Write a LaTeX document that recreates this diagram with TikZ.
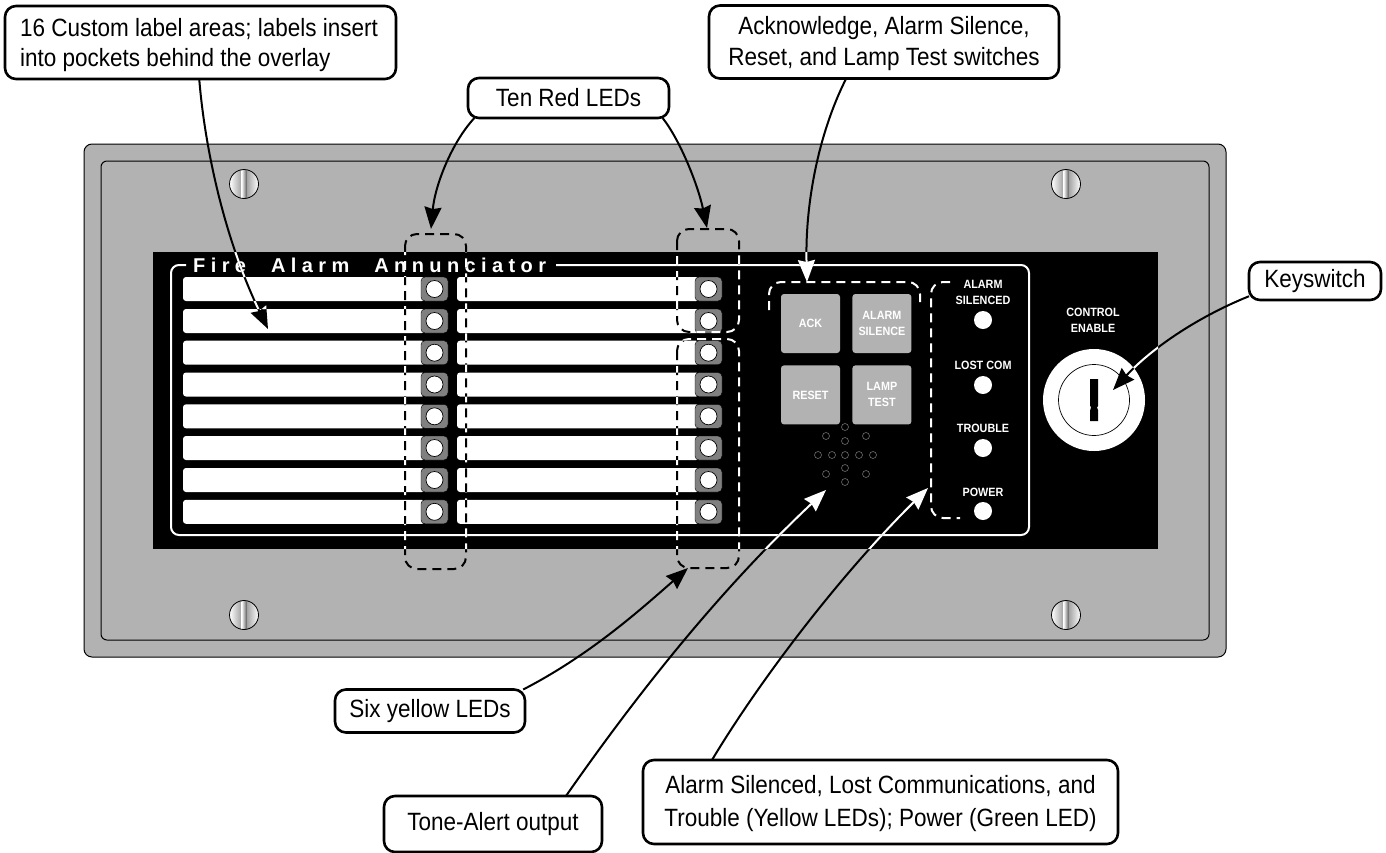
\documentclass[tikz,border=0pt]{standalone}
\usepackage{fontspec}
\setmainfont{Liberation Sans}
\newfontfamily\calloutfont[FakeStretch=0.9]{Liberation Sans}
\newfontfamily\panelfont[FakeStretch=0.9]{Liberation Sans}
\newfontfamily\titlefont[LetterSpace=27]{Liberation Sans}
\usetikzlibrary{arrows.meta,calc,positioning}
\definecolor{plategray}{HTML}{B2B2B2}
\definecolor{padgray}{HTML}{808080}
\definecolor{holegray}{HTML}{6E6E6E}
\newcommand{\lowerline}{\rule{0pt}{22pt}}
\tikzstyle{plate}=[
  draw=black,
  fill=plategray,
  line width=1pt,
]
\tikzstyle{callout}=[
  draw=black,
  fill=white,
  line width=2.6pt,
  rounded corners=11pt,
  inner sep=0pt,
  outer sep=0pt,
  align=center,
  font={\fontsize{25}{31}\calloutfont},
]
\tikzstyle{strip}=[
  fill=white,
  rounded corners=3pt,
  minimum width=242pt,
  minimum height=24pt,
  inner sep=0pt,
  outer sep=0pt,
]
\tikzstyle{pad}=[
  fill=padgray,
  draw=black,
  line width=.4pt,
  rounded corners=4pt,
  minimum width=27pt,
  minimum height=24pt,
  inner sep=0pt,
  outer sep=0pt,
]
\tikzstyle{led}=[
  circle,
  fill=white,
  draw=black,
  line width=.7pt,
  minimum size=17pt,
  inner sep=0pt,
]
\tikzstyle{lamp}=[
  circle,
  fill=white,
  minimum size=18pt,
  inner sep=0pt,
]
\tikzstyle{switch}=[
  fill=plategray,
  rounded corners=3pt,
  minimum width=59pt,
  minimum height=59pt,
  inner sep=0pt,
  align=center,
  text=white,
  font={\fontsize{12}{16}\panelfont\bfseries},
]
\tikzstyle{legend}=[
  text=white,
  align=center,
  inner sep=0pt,
  font={\fontsize{12}{16}\panelfont\bfseries},
]
\tikzstyle{dashbox}=[
  line width=2pt,
  dash pattern=on 9pt off 6pt,
  rounded corners=12pt,
]
\tikzstyle{pointer}=[
  line width=2pt,
  -{Stealth[length=22pt,width=17pt,inset=2pt]},
]
\tikzset{
  x=1pt,
  y=-1pt,
}
% dashed groups and leader lines, drawn once in each colour
\newcommand{\markings}[1]{
  \draw [dashbox, #1] (405,234) rectangle (466,569);
  \draw [dashbox, #1] (677,229) rectangle (739,332);
  \draw [dashbox, #1] (677,339) rectangle (739,568);
  \draw [dashbox, #1] (769,310) -- (769,282) -- (920,282) -- (920,302);
  \draw [dashbox, #1] (950,282) -- (931,282) -- (931,518) -- (960,518);
  \draw [pointer, #1] (CUSTOM.-92) .. controls (205,150) and (225,240) .. (CUSTOMTIP);
  \draw [pointer, #1] (TEN.192) .. controls (452,142) and (435,185) .. (TENTIPA);
  \draw [pointer, #1] (TEN.348) .. controls (680,140) and (698,185) .. (TENTIPB);
  \draw [pointer, #1] (SWITCHES.224) .. controls (820,130) and (805,200) .. (SWITCHTIP);
  \draw [pointer, #1] (KEY.193.6) .. controls (1195,318) and (1150,350) .. (KEYTIP);
  \draw [pointer, #1] (SIX.13.9) .. controls (590,655) and (640,610) .. (SIXTIP);
  \draw [pointer, #1] (TONE.21.25) .. controls (640,690) and (720,590) .. (TONETIP);
  \draw [pointer, #1] (STATUS.166.85) .. controls (760,680) and (840,575) .. (STATUSTIP);
}
\begin{document}
\begin{tikzpicture}
  \useasboundingbox (0,0) rectangle (1386,852);
  \fill [white] (0,0) rectangle (1386,852);
  % housing
  \draw [plate, rounded corners=8pt] (84,144) rectangle (1226,657);
  \draw [plate, rounded corners=6pt] (101,161) rectangle (1209,640);
  \foreach \x/\y/\n in {244/184/A,1066/184/B,244/615/C,1066/615/D} {
    \shade [left color=white, right color=white, middle color=black!45] (\x,\y) circle (14.5);
    \shade [left color=white, right color=black!60] (\x-2.5,\y-14) rectangle (\x+2.5,\y+14);
    \node [circle, draw=black, line width=.8pt, minimum size=29pt, inner sep=0pt] (SCREW\n) at (\x,\y) {};
  }
  % panel
  \fill [black] (153,252) rectangle (1158,549);
  \draw [white, line width=2pt, rounded corners=8pt] (186,265) -- (171,265) -- (171,535) -- (1029,535) -- (1029,265) -- (556,265);
  \node [anchor=west, text=white, inner sep=0pt, font={\fontsize{20}{20}\titlefont\bfseries}] (TITLE) at (193,265) {Fire\hspace{25pt}Alarm\hspace{25pt}Annunciator};
  \foreach \y [count=\n] in {289,321,352.7,384.5,416.3,448,480,511.8} {
    \node [strip] (STRIPL\n) at (304,\y) {};
    \node [pad, right=-4pt of STRIPL\n] (PADL\n) {};
    \node [led] (LEDL\n) at (PADL\n) {};
    \node [strip] (STRIPR\n) at (578,\y) {};
    \node [pad, right=-4pt of STRIPR\n] (PADR\n) {};
    \node [led] (LEDR\n) at (PADR\n) {};
  }
  % switches
  \node [switch] (ACK) at (810.5,323.5) {ACK};
  \node [switch, right=12pt of ACK] (SILENCE) {ALARM\\SILENCE};
  \node [switch, below=12pt of ACK] (RESET) {RESET};
  \node [switch, right=12pt of RESET] (LAMP) {LAMP\\TEST};
  % tone-alert holes
  \foreach \x/\y [count=\n] in {845/427,845/441,845/455,845/468,845/482,818/455,832/455,859/455,873/455,826/436,866/436,826/474,866/474} {
    \node [circle, draw=holegray, line width=.6pt, minimum size=7pt, inner sep=0pt] (HOLE\n) at (\x,\y) {};
  }
  % status lamps
  \node [lamp] (LAMPA) at (983,320) {};
  \node [lamp] (LAMPB) at (983,385) {};
  \node [lamp] (LAMPC) at (983,448) {};
  \node [lamp] (LAMPD) at (983,511) {};
  \node [legend] (LEGENDA) at (983,292) {ALARM\\SILENCED};
  \node [legend] (LEGENDB) at (983,365) {LOST COM};
  \node [legend] (LEGENDC) at (983,428) {TROUBLE};
  \node [legend] (LEGENDD) at (983,492) {POWER};
  % keyswitch
  \node [legend] (LEGENDE) at (1093,320.5) {CONTROL\\ENABLE};
  \node [circle, fill=white, minimum size=102pt, inner sep=0pt] (BEZEL) at (1094,400) {};
  \node [circle, draw=black, line width=.7pt, minimum size=71pt, inner sep=0pt] (CYLINDER) at (1094,400) {};
  \fill [black] (1090,379) -- (1098,379) -- (1098,406) -- (1097,407.5) -- (1098,410) -- (1098,421) -- (1090,421) -- (1090,411) -- (1091,407) -- (1090,406) -- cycle;
  % callouts
  \node [callout, minimum width=391pt, minimum height=73pt] (CUSTOM) at (200.5,42.5) {};
  \node [anchor=west, align=left, inner sep=0pt, font={\fontsize{25}{30.5}\calloutfont}] (CUSTOMTEXT) at (20,43) {\lowerline 16 Custom label areas; labels insert\\into pockets behind the overlay};
  \node [callout, minimum width=201pt, minimum height=40pt] (TEN) at (568.5,98) {Ten Red LEDs};
  \node [callout, minimum width=350pt, minimum height=73pt] (SWITCHES) at (884,42) {\lowerline Acknowledge, Alarm Silence,\\Reset, and Lamp Test switches};
  \node [callout, minimum width=132pt, minimum height=38pt] (KEY) at (1315,281) {Keyswitch};
  \node [callout, minimum width=190pt, minimum height=43pt] (SIX) at (430,711) {Six yellow LEDs};
  \node [callout, minimum width=218pt, minimum height=56pt] (TONE) at (493,824) {Tone-Alert output};
  \node [callout, minimum width=475pt, minimum height=84pt] (STATUS) at (880.5,802) {\lowerline Alarm Silenced, Lost Communications, and\\[2pt]Trouble (Yellow LEDs); Power (Green LED)};
  \coordinate (CUSTOMTIP) at (268,329);
  \coordinate (TENTIPA) at (431,229);
  \coordinate (TENTIPB) at (707,228);
  \coordinate (SWITCHTIP) at (807,282);
  \coordinate (KEYTIP) at (1113,390);
  \coordinate (SIXTIP) at (688,568);
  \coordinate (TONETIP) at (826,490);
  \coordinate (STATUSTIP) at (928,488);
  % black on the light parts, white on the black parts
  \markings{black}
  \begin{scope}[even odd rule]
    \clip (153,252) rectangle (1158,549)
      (183,277) rectangle (421,301) (183,309) rectangle (421,333)
      (183,340.7) rectangle (421,364.7) (183,372.5) rectangle (421,396.5)
      (183,404.3) rectangle (421,428.3) (183,436) rectangle (421,460)
      (183,468) rectangle (421,492) (183,499.8) rectangle (421,523.8)
      (457,277) rectangle (695,301) (457,309) rectangle (695,333)
      (457,340.7) rectangle (695,364.7) (457,372.5) rectangle (695,396.5)
      (457,404.3) rectangle (695,428.3) (457,436) rectangle (695,460)
      (457,468) rectangle (695,492) (457,499.8) rectangle (695,523.8)
      (1094,400) circle (51);
    \markings{white}
  \end{scope}
\end{tikzpicture}
\end{document}
